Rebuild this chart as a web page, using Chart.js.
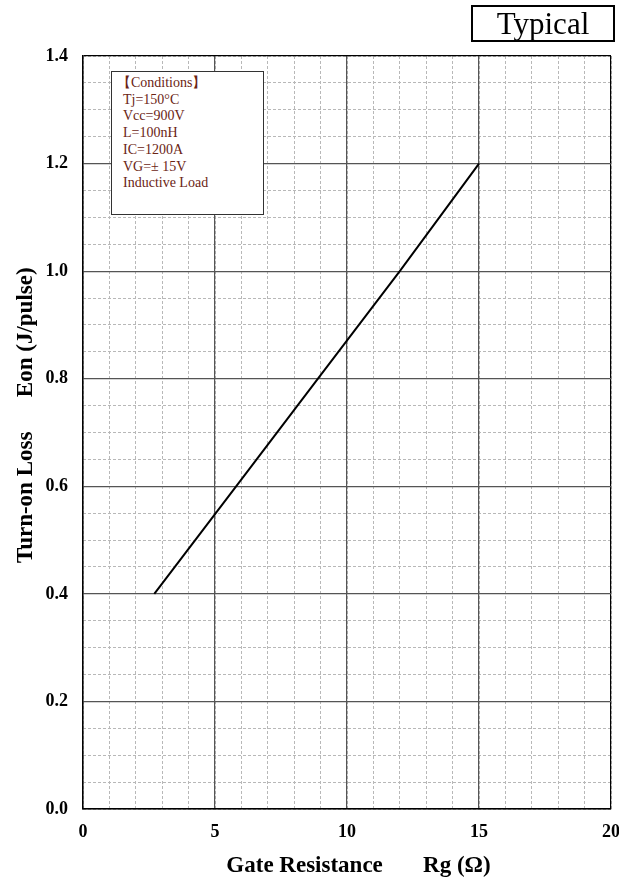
<!DOCTYPE html>
<html>
<head>
<meta charset="utf-8">
<script src="https://cdn.jsdelivr.net/npm/chart.js@4"></script>
<style>
  body { margin: 0; background: #fff; }
  #wrap { position: relative; width: 619px; height: 883px; }
  .typical {
    position: absolute; left: 471px; top: 5px; width: 140px; height: 33px;
    border: 2px solid #000; font: 31px "Liberation Serif", serif;
    text-align: center; line-height: 33px; color: #000;
  }
  .cond {
    position: absolute; left: 111px; top: 71px; width: 153px; height: 144px;
    border: 1px solid #333; background: #fff;
    font: 14px "Liberation Serif", serif; color: #6b2414;
    padding: 3px 0 0 11px; box-sizing: border-box; line-height: 16.7px;
  }
</style>
</head>
<body>
<div id="wrap">
  <canvas id="lossChart" width="619" height="883"></canvas>
  <div class="typical">Typical</div>
  <div class="cond"><span style="margin-left:-6px">【Conditions】</span><br>Tj=150°C<br>Vcc=900V<br>L=100nH<br>IC=1200A<br>VG=± 15V<br>Inductive Load</div>
</div>
<script>
// Eon vs Rg
const rgValues = [2.7, 5.8, 8.9, 12, 15];
const eonValues = [0.4, 0.6, 0.8, 1.0, 1.2];

const xMin = 0, xMax = 20, xStep = 5, xMinorStep = 1;
const yMin = 0, yMax = 1.4, yStep = 0.2, yMinorStep = 0.05;

const serif = '"Liberation Serif", "Times New Roman", serif';
const nb = n => '\u00a0'.repeat(n);

const points = rgValues.map((x, i) => ({ x: x, y: eonValues[i] }));

// edge lines of the plot frame are black, inner major lines gray
const majorColor = (c, max) => (c.tick && Math.abs(c.tick.value - max) < 1e-9) ? '#000' : '#555';

const ctx = document.getElementById('lossChart').getContext('2d');
let lossChart = new Chart(ctx, {
    type: 'scatter',
    data: {
        datasets: [{
            data: points,
            showLine: true,
            borderColor: '#000',
            borderWidth: 2,
            pointRadius: 0,
            tension: 0
        }]
    },
    options: {
        responsive: false,
        animation: false,
        layout: { padding: { left: 0, top: 56, right: 8, bottom: 0 } },
        plugins: { legend: { display: false }, tooltip: { enabled: false } },
        scales: {
            xMinor: {
                type: 'linear', axis: 'x', position: 'bottom',
                min: xMin, max: xMax,
                ticks: { display: false, stepSize: xMinorStep },
                grid: { color: '#b8b8b8', lineWidth: 1, drawTicks: false, z: -1 },
                border: { display: false, dash: [3, 2] },
                afterFit: s => { s.height = 0; s.paddingLeft = 0; s.paddingRight = 0; }
            },
            yMinor: {
                type: 'linear', axis: 'y', position: 'left',
                min: yMin, max: yMax,
                ticks: { display: false, stepSize: yMinorStep },
                grid: { color: '#b8b8b8', lineWidth: 1, drawTicks: false, z: -1 },
                border: { display: false, dash: [3, 2] },
                afterFit: s => { s.width = 0; s.paddingTop = 0; s.paddingBottom = 0; }
            },
            x: {
                type: 'linear', position: 'bottom',
                min: xMin, max: xMax,
                ticks: { stepSize: xStep, color: '#000', padding: 13,
                         font: { family: serif, size: 18, weight: 'bold' } },
                grid: { color: c => majorColor(c, xMax), lineWidth: 1.2, drawTicks: false },
                border: { color: '#000', width: 1.5 },
                title: { display: true, text: nb(4) + 'Gate Resistance' + nb(7) + 'Rg (Ω)', color: '#000',
                         padding: { top: 4, bottom: 3 },
                         font: { family: serif, size: 23, weight: 'bold' } },
                afterFit: s => { s.height = 74; s.paddingLeft = 0; s.paddingRight = 0; }
            },
            y: {
                type: 'linear', position: 'left',
                min: yMin, max: yMax,
                ticks: { stepSize: yStep, color: '#000', padding: 15,
                         callback: v => v.toFixed(1),
                         font: { family: serif, size: 18, weight: 'bold' } },
                grid: { color: c => majorColor(c, yMax), lineWidth: 1.2, drawTicks: false },
                border: { color: '#000', width: 1.5 },
                title: { display: true, text: nb(6) + 'Turn-on Loss' + nb(6) + 'Eon (J/pulse)', color: '#000',
                         padding: { top: 12, bottom: 4 },
                         font: { family: serif, size: 23, weight: 'bold' } },
                afterFit: s => { s.width = 83; s.paddingTop = 0; s.paddingBottom = 0; }
            }
        }
    }
});
</script>
</body>
</html>
